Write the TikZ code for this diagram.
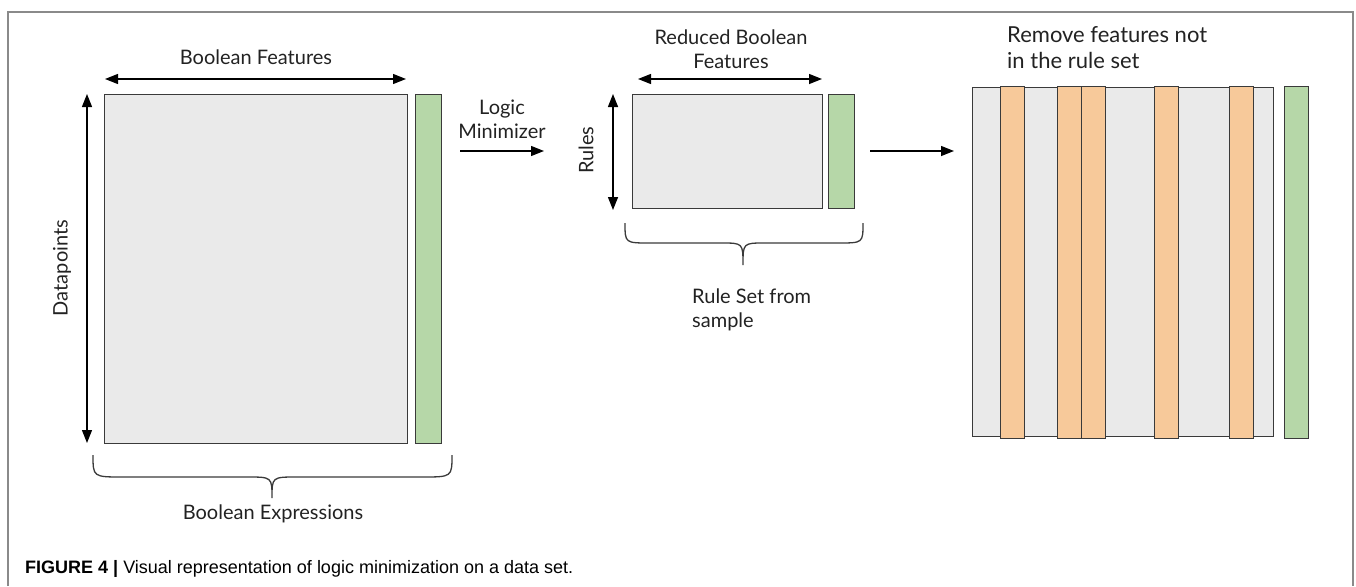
\documentclass[tikz,border=0pt]{standalone}
\usepackage{fontspec}
\setmainfont{Lato}
\newfontfamily\capfont{Liberation Sans}
\usetikzlibrary{arrows.meta}
\definecolor{boxgray}{HTML}{EAEAEA}
\definecolor{boxline}{HTML}{3A3A3A}
\definecolor{greencol}{HTML}{B6D7A8}
\definecolor{orangecol}{HTML}{F7C99A}
\definecolor{framegray}{HTML}{8A8A8A}
\definecolor{txt}{HTML}{222222}
\tikzset{
  graybox/.style={draw=boxline, fill=boxgray, line width=1.4pt},
  greenbox/.style={draw=boxline, fill=greencol, line width=1.4pt},
  orangebox/.style={draw=boxline, fill=orangecol, line width=1.4pt},
  dimarrow/.style={{Triangle[length=13pt,width=10pt]}-{Triangle[length=13pt,width=10pt]}, line width=1.4pt, draw=black},
  flowarrow/.style={-{Triangle[length=13pt,width=10pt]}, line width=1.4pt, draw=black},
  brace/.style={draw=boxline, line width=1.3pt},
  lbl/.style={text=txt, inner sep=0pt, font=\fontsize{20}{24}\selectfont},
}
\begin{document}
\begin{tikzpicture}[x=1pt,y=-1pt]
\useasboundingbox (0,0) rectangle (1356,586);
% frame
\draw[framegray, line width=1.5pt] (8,586) -- (8,12) -- (1353,12) -- (1353,586);

% ---------- left block ----------
\node[graybox, minimum width=303pt, minimum height=349pt, inner sep=0pt, anchor=north west] (bigbox) at (104,94) {};
\node[greenbox, minimum width=26pt, minimum height=349pt, inner sep=0pt, anchor=north west] (bigtarget) at (415,94) {};
\node[lbl] (bfeat) at (256,57) {Boolean Features};
\coordinate (bfL) at (105,79);
\coordinate (bfR) at (406,79);
\draw[dimarrow] (bfL) -- (bfR);
\coordinate (dpT) at (87,94);
\coordinate (dpB) at (87,443);
\draw[dimarrow] (dpT) -- (dpB);
\node[lbl, rotate=90] (dpoints) at (62,268) {Datapoints};
% brace
\coordinate (b1L) at (93,455);
\coordinate (b1C) at (272,498);
\coordinate (b1R) at (452,455);
\draw[brace] (b1L) .. controls (93,477) and (93,477) .. (123,477) -- (247,477)
  .. controls (272,477) and (272,477) .. (b1C)
  .. controls (272,477) and (272,477) .. (297,477) -- (422,477)
  .. controls (452,477) and (452,477) .. (b1R);
\node[lbl] (bexpr) at (273,514) {Boolean Expressions};

% ---------- logic minimizer ----------
\node[lbl, align=center] (logic) at (502,119) {Logic\\Minimizer};
\coordinate (a1s) at (460,151);
\coordinate (a1e) at (544,151);
\draw[flowarrow] (a1s) -- (a1e);

% ---------- middle block ----------
\node[graybox, minimum width=190pt, minimum height=114pt, inner sep=0pt, anchor=north west] (midbox) at (632,94) {};
\node[greenbox, minimum width=26pt, minimum height=114pt, inner sep=0pt, anchor=north west] (midtarget) at (828,94) {};
\node[lbl, align=center] (rbfeat) at (731,49) {Reduced Boolean\\Features};
\coordinate (rfL) at (638,79);
\coordinate (rfR) at (822,79);
\draw[dimarrow] (rfL) -- (rfR);
\coordinate (ruT) at (613,94);
\coordinate (ruB) at (613,210);
\draw[dimarrow] (ruT) -- (ruB);
\node[lbl, rotate=90] (rules) at (586,150) {Rules};
\coordinate (b2L) at (625,223);
\coordinate (b2C) at (743,265);
\coordinate (b2R) at (863,223);
\draw[brace] (b2L) .. controls (625,243) and (625,243) .. (650,243) -- (721,243)
  .. controls (743,243) and (743,243) .. (b2C)
  .. controls (743,243) and (743,243) .. (765,243) -- (838,243)
  .. controls (863,243) and (863,243) .. (b2R);
\node[lbl, align=left, anchor=north west] (ruleset) at (692,289) {Rule Set from\\sample};

\coordinate (a2s) at (870,151);
\coordinate (a2e) at (954,151);
\draw[flowarrow] (a2s) -- (a2e);

% ---------- right block ----------
\node[graybox, minimum width=301pt, minimum height=349pt, inner sep=0pt, anchor=north west] (rbox) at (972,87) {};
\foreach \xx/\nm in {1000/o1,1057/o2,1081/o3,1154/o4,1229/o5}{
  \node[orangebox, minimum width=24pt, minimum height=352pt, inner sep=0pt, anchor=north west] (\nm) at (\xx,86) {};
}
\node[greenbox, minimum width=24pt, minimum height=352pt, inner sep=0pt, anchor=north west] (rtarget) at (1284,86) {};
\node[lbl, align=left, anchor=north west, font=\fontsize{22}{26}\selectfont] (remove) at (1007,26) {Remove features not\\in the rule set};

% ---------- caption ----------
\node[anchor=base west, inner sep=0pt, text=black] (caption) at (25,573)
  {\capfont\fontsize{18}{20}\selectfont\textbf{FIGURE 4 |} Visual representation of logic minimization on a data set.};
\end{tikzpicture}
\end{document}
